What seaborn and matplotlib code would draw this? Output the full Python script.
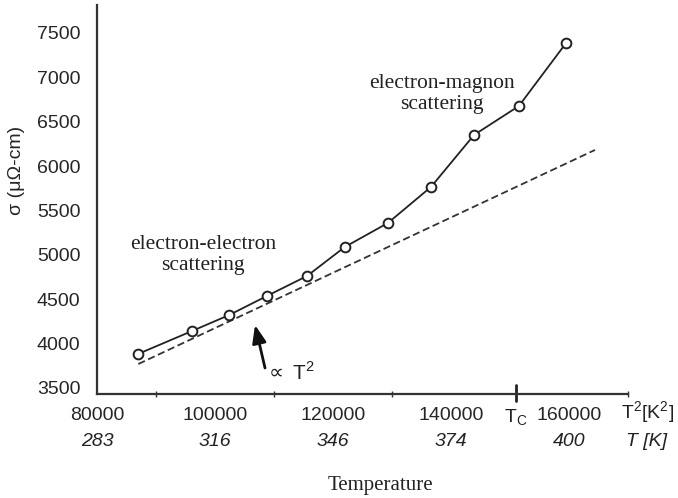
import matplotlib
matplotlib.use("Agg")
import matplotlib.pyplot as plt
import seaborn as sns
import pandas as pd

# Data
t2_values = [86950, 96100, 102400, 108800, 115600, 122000, 129300, 136600, 143900, 151500, 159500]
sigma_values = [3883, 4142, 4322, 4537, 4762, 5089, 5359, 5765, 6351, 6677, 7387]
fit_t2 = [87000, 164400]
fit_sigma = [3770, 6182]

x_ticks = [80000, 100000, 120000, 140000, 160000]
x_tick_labels = ["80000", "100000", "120000", "140000", "160000"]
t_labels = ["283", "316", "346", "374", "400"]
y_ticks = [3500, 4000, 4500, 5000, 5500, 6000, 6500, 7000, 7500]
tc_value = 151000

sns.set_theme(style="white")
plt.rcParams['font.family'] = ['Liberation Sans', 'DejaVu Sans']

fig = plt.figure(figsize=(6.78, 4.98), dpi=100)
ax = fig.add_axes([0.1431, 0.2088, 0.7832, 0.7811])

df = pd.DataFrame({"T2": t2_values, "sigma": sigma_values})
fit = pd.DataFrame({"T2": fit_t2, "sigma": fit_sigma})

sns.lineplot(data=fit, x="T2", y="sigma", ax=ax, color="#333333", lw=1.3,
             linestyle=(0, (4, 2)))
sns.lineplot(data=df, x="T2", y="sigma", ax=ax, color="#222222", lw=1.3,
             marker="o", markersize=7, markerfacecolor="white",
             markeredgecolor="#222222", markeredgewidth=1.4)

ax.set_xlim(80000, 170000)
ax.set_ylim(3432, 7815)
ax.set_xticks(x_ticks)
ax.set_xticklabels(x_tick_labels)
ax.set_xticks([90000, 110000, 130000, 170000], minor=True)
ax.set_yticks(y_ticks)
ax.set_yticklabels([str(v) for v in y_ticks])

for s in ["top", "right"]:
    ax.spines[s].set_visible(False)
for s in ["left", "bottom"]:
    ax.spines[s].set_color("#333333")
    ax.spines[s].set_linewidth(1.6)

ax.tick_params(axis="y", which="major", direction="out", length=5, width=1.2,
               color="#333333", labelsize=14, pad=7)
ax.tick_params(axis="x", which="major", direction="inout", length=7, width=1.2,
               color="#333333", labelsize=14, pad=6)
ax.tick_params(axis="x", which="minor", direction="inout", length=4, width=1.0,
               color="#333333", bottom=True)
ax.set_xlabel("")
ax.set_ylabel("σ (μΩ-cm)", fontsize=14, labelpad=4)
ax.yaxis.set_label_coords(-0.136, 0.576)

trans = ax.get_xaxis_transform()
for xv, lab in zip(x_ticks, t_labels):
    ax.text(xv, -0.123, lab, transform=trans, ha="center", va="center",
            fontsize=14, style="italic", color="#222222")
ax.text(1.036, -0.049, "T$^\\mathregular{2}$[K$^\\mathregular{2}$]",
        transform=ax.transAxes, ha="center", va="center", fontsize=14,
        color="#222222")
ax.text(1.034, -0.123, "T [K]", transform=ax.transAxes, ha="center",
        va="center", fontsize=14, style="italic", color="#222222")

# Tc marker
ax.plot([tc_value, tc_value], [-0.018, 0.022], transform=trans, color="#222222",
        lw=2.0, clip_on=False)
ax.text(tc_value, -0.035, "T$_\\mathregular{C}$", transform=trans, ha="center",
        va="top", fontsize=14, color="#222222")

serif = ['Liberation Serif', 'DejaVu Serif']
ax.text(97970, 5000, "electron-electron\nscattering", ha="center", va="center",
        fontsize=15.5, family=serif, color="#222222", linespacing=1.15)
ax.text(138475, 6809, "electron-magnon\nscattering", ha="center", va="center",
        fontsize=15.5, family=serif, color="#222222", linespacing=1.15)

ax.annotate("", xy=(106780, 4210), xytext=(108475, 3725),
            arrowprops=dict(arrowstyle="-|>,head_length=0.9,head_width=0.35",
                            color="#111111", lw=2.0, shrinkA=0, shrinkB=0))
ax.text(108300, 3680, "$\\propto$ T$^\\mathregular{2}$", ha="left", va="center",
        fontsize=15, color="#222222")

fig.text(380 / 678, 1 - 485 / 498, "Temperature", ha="center", va="center",
         fontsize=15, family=serif, color="#222222")

fig.savefig("out.png", dpi=100)
